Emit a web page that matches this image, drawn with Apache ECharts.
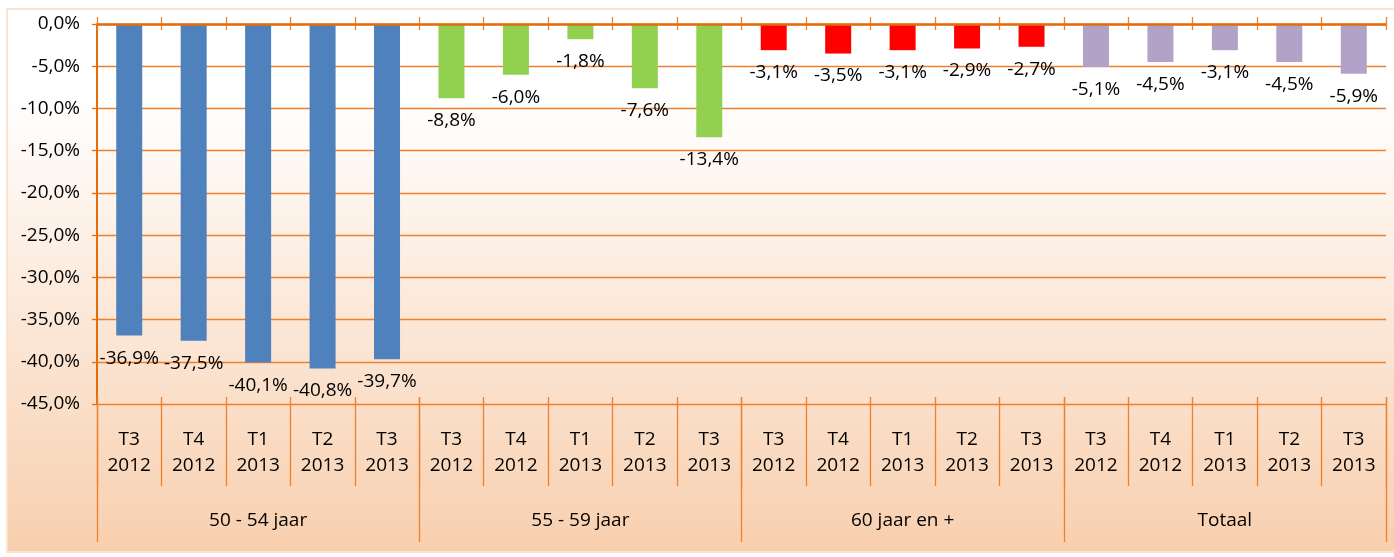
<!DOCTYPE html>
<html>
<head>
<meta charset="utf-8">
<script src="https://cdn.jsdelivr.net/npm/echarts@6/dist/echarts.min.js"></script>
<style>
  html, body { margin: 0; padding: 0; background: #fff; }
  #chart { width: 1394px; height: 557px; }
</style>
</head>
<body>
<div id="chart"></div>
<script>
// data
var groups = ['50 - 54 jaar', '55 - 59 jaar', '60 jaar en +', 'Totaal'];
var periods = ['T3\n2012', 'T4\n2012', 'T1\n2013', 'T2\n2013', 'T3\n2013'];
var vals5054 = [-36.9, -37.5, -40.1, -40.8, -39.7];
var vals5559 = [-8.8, -6.0, -1.8, -7.6, -13.4];
var vals60 = [-3.1, -3.5, -3.1, -2.9, -2.7];
var valsTotaal = [-5.1, -4.5, -3.1, -4.5, -5.9];
var groupColors = ['#4F81BD', '#92D050', '#FF0000', '#B2A2C7'];

var font = '"Open Sans", sans-serif';
var orange = '#E46C0A';
var lineOrange = '#EE7F2D';

var allVals = [vals5054, vals5559, vals60, valsTotaal];
var categories = [];
var barData = [];
allVals.forEach(function (vals, g) {
    vals.forEach(function (v, i) {
        categories.push(periods[i]);
        barData.push({value: v, itemStyle: {color: groupColors[g]}});
    });
});

function pct(v) {
    return Number(v).toFixed(1).replace('.', ',').replace('-0,0', '0,0') + '%';
}

var myChart = echarts.init(document.getElementById('chart'));

myChart.setOption({
    animation: false,
    textStyle: {fontFamily: font},
    graphic: [{
        type: 'rect',
        z: -100,
        silent: true,
        shape: {x: 7, y: 9, width: 1400, height: 543},
        style: {
            fill: new echarts.graphic.LinearGradient(0, 0, 0, 1, [
                {offset: 0, color: '#FFFFFF'},
                {offset: 0.16, color: '#FFFFFF'},
                {offset: 1, color: '#F8CFAE'}
            ]),
            stroke: '#FCE3D0',
            lineWidth: 2
        }
    }],
    grid: {left: 97, right: 8, top: 24, bottom: 153},
    xAxis: [
        {
            type: 'category',
            position: 'bottom',
            offset: -7,
            data: categories,
            axisLine: {show: false, onZero: false},
            axisTick: {show: true, length: 89, lineStyle: {color: lineOrange, width: 1.3}},
            axisLabel: {
                margin: 30, lineHeight: 26, fontSize: 19, color: '#000', fontFamily: font,
                interval: 0
            },
            splitLine: {show: false}
        },
        {
            type: 'category',
            position: 'bottom',
            offset: -7,
            data: groups,
            axisLine: {show: false, onZero: false},
            axisTick: {show: true, length: 145, lineStyle: {color: lineOrange, width: 1.3}},
            axisLabel: {margin: 113, lineHeight: 22, fontSize: 19, color: '#000', fontFamily: font, interval: 0},
            splitLine: {show: false}
        },
        {
            type: 'category',
            position: 'top',
            offset: -6,
            data: categories,
            axisLine: {show: false, onZero: false},
            axisTick: {show: true, length: 13, lineStyle: {color: lineOrange, width: 1.3}},
            axisLabel: {show: false},
            splitLine: {show: false}
        }
    ],
    yAxis: {
        type: 'value',
        min: -45,
        max: 0,
        interval: 5,
        axisLine: {show: true, lineStyle: {color: orange, width: 2}},
        axisTick: {show: true, length: 5, lineStyle: {color: orange, width: 1.3}},
        splitLine: {show: true, lineStyle: {color: lineOrange, width: 1.3}},
        axisLabel: {margin: 17, fontSize: 19, color: '#000', fontFamily: font, formatter: pct}
    },
    series: [{
        type: 'bar',
        xAxisIndex: 0,
        barWidth: 26,
        data: barData,
        label: {
            show: true,
            position: 'bottom',
            distance: 13,
            fontSize: 19,
            color: '#000',
            fontFamily: font,
            formatter: function (p) { return pct(p.value); }
        },
        markLine: {
            silent: true,
            symbol: 'none',
            label: {show: false},
            lineStyle: {color: orange, width: 2.5, type: 'solid'},
            data: [{yAxis: 0}]
        }
    }]
});
</script>
</body>
</html>
